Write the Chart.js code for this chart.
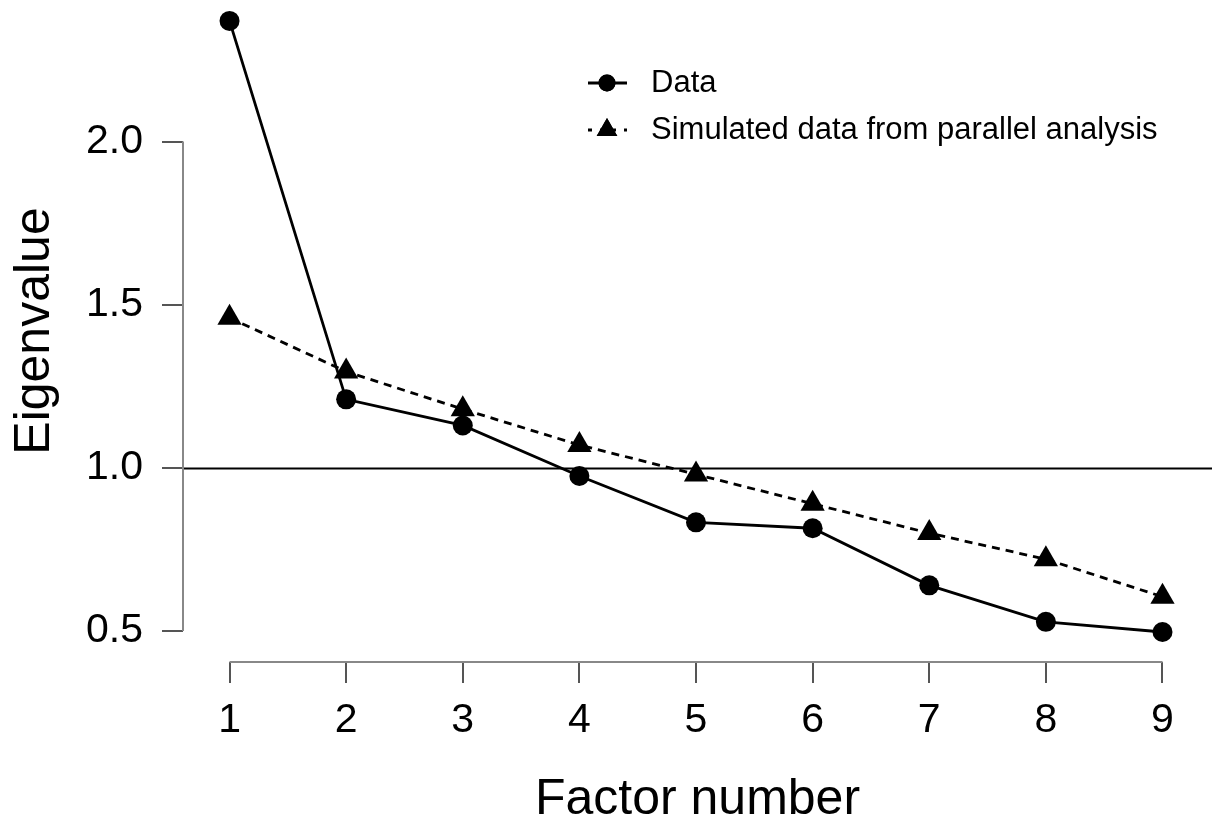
<!DOCTYPE html>
<html>
<head>
<meta charset="utf-8">
<title>Scree plot</title>
<script src="https://cdn.jsdelivr.net/npm/chart.js@4.4.0/dist/chart.umd.min.js"></script>
<style>
  body { margin: 0; background: #fff; }
  #wrap { width: 1212px; height: 825px; position: relative; }
</style>
</head>
<body>
<div id="wrap"><canvas id="screeChart" width="1212" height="825"></canvas></div>
<script>
// ---------------- data ----------------
var factors = [1, 2, 3, 4, 5, 6, 7, 8, 9];
var eigenData = [2.37, 1.21, 1.13, 0.975, 0.833, 0.815, 0.64, 0.528, 0.497];
var eigenSimulated = [1.46, 1.295, 1.18, 1.07, 0.98, 0.89, 0.80, 0.72, 0.605];
var yTickValues = [0.5, 1.0, 1.5, 2.0];
var xTickValues = factors;
var refValue = 1.0;
var seriesNames = ['Data', 'Simulated data from parallel analysis'];

var FONT = '"Liberation Sans", Arial, sans-serif';

function toPoints(values) {
    return factors.map(function (f, i) { return { x: f, y: values[i] }; });
}

// ---------------- R style axes + reference line + legend ----------------
var rStyle = {
    id: 'rStyle',
    beforeDatasetsDraw: function (chart) {
        var ctx = chart.ctx, area = chart.chartArea;
        var xs = chart.scales.x, ys = chart.scales.y;
        ctx.save();
        // horizontal line at eigenvalue 1
        var yr = Math.round(ys.getPixelForValue(refValue)) + 0.5;
        ctx.strokeStyle = '#000';
        ctx.lineWidth = 2;
        ctx.beginPath();
        ctx.moveTo(area.left, yr);
        ctx.lineTo(area.right, yr);
        ctx.stroke();
        // axis lines only between first and last tick
        ctx.strokeStyle = '#888';
        ctx.lineWidth = 2;
        ctx.beginPath();
        ctx.moveTo(area.left, ys.getPixelForValue(yTickValues[0]));
        ctx.lineTo(area.left, ys.getPixelForValue(yTickValues[yTickValues.length - 1]));
        ctx.moveTo(xs.getPixelForValue(xTickValues[0]), area.bottom);
        ctx.lineTo(xs.getPixelForValue(xTickValues[xTickValues.length - 1]), area.bottom);
        ctx.stroke();
        ctx.restore();
    },
    afterDraw: function (chart) {
        var ctx = chart.ctx;
        var rows = [
            { y: 83, ds: chart.data.datasets[0] },
            { y: 130, ds: chart.data.datasets[1] }
        ];
        ctx.save();
        rows.forEach(function (row) {
            var ds = row.ds;
            ctx.strokeStyle = '#000';
            ctx.lineWidth = ds.borderWidth;
            ctx.setLineDash(ds.borderDash ? [4, 8] : []);
            ctx.beginPath();
            ctx.moveTo(588, row.y);
            ctx.lineTo(627, row.y);
            ctx.stroke();
            ctx.setLineDash([]);
            Chart.helpers.drawPoint(ctx, {
                pointStyle: ds.pointStyle,
                radius: ds.pointRadius * 0.85,
                rotation: 0,
                borderWidth: 0
            }, 607, row.y);
            ctx.fillStyle = '#000';
            ctx.fill();
            ctx.font = '31px ' + FONT;
            ctx.textBaseline = 'middle';
            ctx.textAlign = 'left';
            ctx.fillText(ds.label, 651, row.y);
        });
        ctx.restore();
    }
};

// ---------------- chart ----------------
var ctx = document.getElementById('screeChart').getContext('2d');

var screeChart = new Chart(ctx, {
    type: 'line',
    data: {
        datasets: [
            {
                label: seriesNames[0],
                data: toPoints(eigenData),
                borderColor: '#000',
                backgroundColor: '#000',
                borderWidth: 2.8,
                pointStyle: 'circle',
                pointRadius: 10,
                pointBorderWidth: 0,
                pointBackgroundColor: '#000',
                tension: 0
            },
            {
                label: seriesNames[1],
                data: toPoints(eigenSimulated),
                borderColor: '#000',
                backgroundColor: '#000',
                borderWidth: 2.8,
                borderDash: [8, 6],
                pointStyle: 'triangle',
                pointRadius: 14,
                pointBorderWidth: 0,
                pointBackgroundColor: '#000',
                tension: 0
            }
        ]
    },
    options: {
        responsive: false,
        animation: false,
        layout: { padding: 0, autoPadding: false },
        plugins: {
            legend: { display: false },
            tooltip: { enabled: false }
        },
        scales: {
            x: {
                type: 'linear',
                min: 0.601,
                max: 9.4245,
                afterBuildTicks: function (scale) {
                    scale.ticks = xTickValues.map(function (v) { return { value: v }; });
                },
                afterFit: function (scale) {
                    scale.height = 163;
                    scale.paddingLeft = 0;
                    scale.paddingRight = 0;
                },
                border: { display: false },
                grid: {
                    drawOnChartArea: false,
                    drawTicks: true,
                    tickLength: 21,
                    color: '#555',
                    lineWidth: 2
                },
                ticks: {
                    autoSkip: false,
                    maxRotation: 0,
                    color: '#000',
                    padding: 13,
                    font: { family: FONT, size: 41 },
                    callback: function (v) { return String(v); }
                },
                title: {
                    display: true,
                    text: 'Factor number',
                    color: '#000',
                    font: { family: FONT, size: 50, lineHeight: 1 },
                    padding: { top: 0, bottom: 0 }
                }
            },
            y: {
                type: 'linear',
                min: 0.405,
                max: 2.434,
                afterBuildTicks: function (scale) {
                    scale.ticks = yTickValues.map(function (v) { return { value: v }; });
                },
                afterFit: function (scale) {
                    scale.width = 183;
                    scale.paddingTop = 0;
                    scale.paddingBottom = 0;
                },
                border: { display: false },
                grid: {
                    drawOnChartArea: false,
                    drawTicks: true,
                    tickLength: 21,
                    color: '#555',
                    lineWidth: 2
                },
                ticks: {
                    color: '#000',
                    padding: 19,
                    font: { family: FONT, size: 41 },
                    callback: function (v) { return v.toFixed(1); }
                },
                title: {
                    display: true,
                    text: 'Eigenvalue',
                    color: '#000',
                    font: { family: FONT, size: 50, lineHeight: 1.2 },
                    padding: { top: 5, bottom: 0 }
                }
            }
        }
    },
    plugins: [rStyle]
});
</script>
</body>
</html>
